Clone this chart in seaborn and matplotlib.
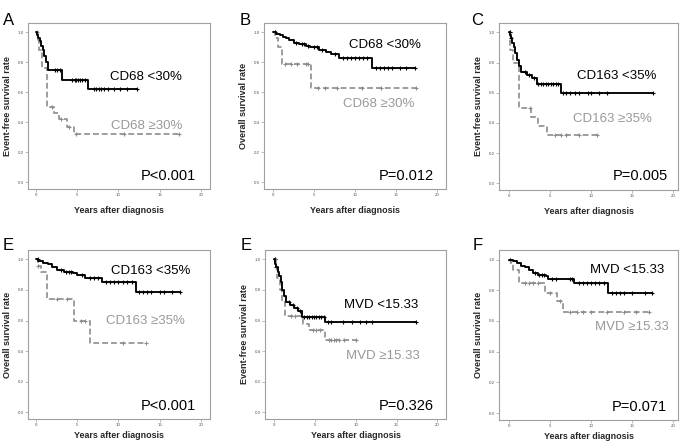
import numpy as np
import matplotlib
matplotlib.use("Agg")
import matplotlib.pyplot as plt
import seaborn as sns

# ---- data (event times, survival after step, censor times) ----
# A: CD68, event-free
a_lo_t = [0, 0.15, 0.3, 0.45, 0.6, 0.8, 1.0, 1.2, 1.4, 3.2, 6.3]
a_lo_s = [1.0, 0.98, 0.96, 0.94, 0.91, 0.88, 0.84, 0.80, 0.75, 0.68, 0.62]
a_lo_end = 12.3
a_lo_cens = [2.3, 2.6, 2.9, 4.4, 4.7, 4.9, 5.1, 5.3, 5.6, 5.9, 7.0, 7.3, 7.6, 7.9,
             8.3, 8.7, 9.5, 10.2, 11.0, 12.3]
a_hi_t = [0, 0.2, 0.4, 0.7, 1.3, 2.2, 2.8, 3.7, 4.6]
a_hi_s = [1.0, 0.95, 0.88, 0.76, 0.50, 0.46, 0.42, 0.37, 0.32]
a_hi_end = 17.4
a_hi_cens = [0.1, 2.0, 3.0, 4.0, 4.8, 10.7, 17.4]

# B: CD68, overall
b_lo_t = [0, 0.4, 0.8, 1.2, 1.6, 2.0, 2.5, 3.2, 4.0, 4.5, 5.6, 6.5, 7.0, 8.0, 12.1]
b_lo_s = [1.0, 0.99, 0.98, 0.97, 0.96, 0.95, 0.93, 0.92, 0.91, 0.90, 0.88, 0.87,
          0.855, 0.83, 0.76]
b_lo_end = 17.3
b_lo_cens = [0.2, 2.8, 3.5, 3.8, 4.2, 5.0, 5.3, 6.0, 7.5, 8.5, 9.0, 9.5, 10.0, 10.5,
             11.0, 11.5, 12.5, 13.0, 13.5, 14.0, 14.5, 15.5, 16.2, 17.3]
b_hi_t = [0, 0.3, 0.6, 1.1, 4.6]
b_hi_s = [1.0, 0.96, 0.90, 0.79, 0.63]
b_hi_end = 17.4
b_hi_cens = [0.2, 1.5, 2.2, 2.9, 4.0, 4.3, 5.5, 6.3, 7.8, 10.8, 13.2, 17.4]

# C: CD163, event-free
c_lo_t = [0, 0.15, 0.3, 0.45, 0.6, 0.8, 1.0, 1.2, 1.5, 2.2, 2.8, 3.4, 6.3]
c_lo_s = [1.0, 0.98, 0.96, 0.93, 0.90, 0.86, 0.82, 0.78, 0.74, 0.72, 0.70, 0.66, 0.60]
c_lo_end = 17.5
c_lo_cens = [0.1, 0.3, 2.0, 2.5, 3.1, 3.6, 3.9, 4.2, 4.5, 4.8, 5.1, 5.4, 5.7, 6.0,
             6.6, 7.0, 7.5, 8.0, 8.5, 9.6, 10.0, 11.0, 12.0, 17.5]
c_hi_t = [0, 0.2, 0.5, 1.3, 2.7, 3.6, 4.6]
c_hi_s = [1.0, 0.88, 0.80, 0.50, 0.44, 0.38, 0.32]
c_hi_end = 10.7
c_hi_cens = [0.1, 2.6, 5.6, 6.3, 7.0, 8.5, 10.7]

# E: CD163, overall
e_lo_t = [0, 0.3, 0.8, 1.5, 2.0, 2.5, 3.4, 4.5, 5.0, 6.0, 8.0, 12.1]
e_lo_s = [1.0, 0.99, 0.98, 0.97, 0.95, 0.93, 0.92, 0.91, 0.90, 0.88, 0.855, 0.785]
e_lo_end = 17.5
e_lo_cens = [0.2, 3.0, 3.6, 4.0, 4.3, 5.6, 6.5, 7.0, 7.5, 8.5, 9.0, 9.5, 10.0, 10.5,
             11.0, 11.6, 12.5, 13.0, 13.5, 14.0, 15.0, 15.5, 16.5, 17.5]
e_hi_t = [0, 0.3, 0.6, 1.3, 4.6, 6.6]
e_hi_s = [1.0, 0.96, 0.92, 0.74, 0.60, 0.45]
e_hi_end = 13.3
e_hi_cens = [0.3, 2.6, 3.8, 5.4, 6.0, 10.5, 13.3]

# E (second): MVD, event-free
m_lo_t = [0, 0.15, 0.3, 0.45, 0.6, 0.8, 1.0, 1.2, 1.5, 2.0, 2.5, 3.0, 3.4, 6.3]
m_lo_s = [1.0, 0.97, 0.95, 0.92, 0.89, 0.85, 0.80, 0.76, 0.72, 0.70, 0.68, 0.66,
          0.62, 0.59]
m_lo_end = 17.4
m_lo_cens = [0.1, 0.3, 1.8, 2.3, 2.8, 3.2, 3.7, 4.0, 4.3, 4.6, 4.9, 5.2, 5.5, 5.8,
             6.1, 6.6, 7.0, 8.5, 9.5, 10.5, 11.3, 12.0, 17.4]
m_hi_t = [0, 0.2, 0.4, 0.7, 1.0, 1.3, 3.5, 4.3, 6.3]
m_hi_s = [1.0, 0.95, 0.88, 0.80, 0.72, 0.63, 0.58, 0.54, 0.47]
m_hi_end = 10.0
m_hi_cens = [0.1, 2.1, 2.6, 4.8, 5.2, 5.6, 6.7, 7.0, 7.3, 7.6, 8.0, 8.6, 10.0]

# F: MVD, overall
f_lo_t = [0, 0.5, 1.0, 1.5, 2.0, 2.5, 3.0, 3.5, 4.5, 4.8, 7.9, 12.1]
f_lo_s = [1.0, 0.99, 0.98, 0.96, 0.95, 0.93, 0.91, 0.90, 0.89, 0.87, 0.85, 0.78]
f_lo_end = 17.4
f_lo_cens = [0.2, 3.2, 3.7, 4.0, 4.3, 5.2, 5.8, 7.4, 7.7, 8.5, 9.0, 9.5, 10.0, 10.5,
             11.0, 11.6, 12.5, 13.0, 13.5, 14.0, 15.0, 16.5, 17.4]
f_hi_t = [0, 0.3, 0.5, 1.2, 4.4, 5.9, 6.6]
f_hi_s = [1.0, 0.97, 0.93, 0.85, 0.78, 0.73, 0.66]
f_hi_end = 17.0
f_hi_cens = [0.2, 2.0, 2.5, 3.0, 3.5, 5.0, 6.2, 7.5, 8.3, 9.0, 10.0, 12.0, 14.0, 15.5, 17.0]

letters = ["A", "B", "C", "E", "E", "F"]
ylabels = ["Event-free survival rate", "Overall survival rate", "Event-free survival rate",
           "Overall survival rate", "Event-free survival rate", "Overall survival rate"]
lo_labels = ["CD68 <30%", "CD68 <30%", "CD163 <35%", "CD163 <35%", "MVD <15.33", "MVD <15.33"]
hi_labels = ["CD68 \u226530%", "CD68 \u226530%", "CD163 \u226535%", "CD163 \u226535%",
             "MVD \u226515.33", "MVD \u226515.33"]
p_labels = ["P<0.001", "P=0.012", "P=0.005", "P<0.001", "P=0.326", "P=0.071"]
xticks = [0, 5, 10, 15, 20]
yticks = [0.0, 0.2, 0.4, 0.6, 0.8, 1.0]

panels = [
    (a_lo_t, a_lo_s, a_lo_end, a_lo_cens, a_hi_t, a_hi_s, a_hi_end, a_hi_cens),
    (b_lo_t, b_lo_s, b_lo_end, b_lo_cens, b_hi_t, b_hi_s, b_hi_end, b_hi_cens),
    (c_lo_t, c_lo_s, c_lo_end, c_lo_cens, c_hi_t, c_hi_s, c_hi_end, c_hi_cens),
    (e_lo_t, e_lo_s, e_lo_end, e_lo_cens, e_hi_t, e_hi_s, e_hi_end, e_hi_cens),
    (m_lo_t, m_lo_s, m_lo_end, m_lo_cens, m_hi_t, m_hi_s, m_hi_end, m_hi_cens),
    (f_lo_t, f_lo_s, f_lo_end, f_lo_cens, f_hi_t, f_hi_s, f_hi_end, f_hi_cens),
]

# ---- layout (pixel boxes of each axes, figure 686x447) ----
W, H = 686, 447
boxes = [(28, 23, 210, 189), (264, 23, 446, 189), (499, 23, 678, 190),
         (28, 250, 210, 419), (265, 250, 446, 419), (499, 250, 678, 420)]
xlims = [(-0.97, 21.1), (-1.1, 21.06), (-1.18, 20.57),
         (-0.97, 21.1), (-1.1, 21.06), (-1.18, 20.57)]
xlabelpads = [6.5, 6.5, 6.5, 2.8, 2.8, 2.8]
# label positions (x right edge, y centre) in data units
lo_pos = [(17.7, 0.70), (18.0, 0.914), (17.9, 0.71), (18.7, 0.927), (17.7, 0.70), (18.9, 0.934)]
hi_pos = [(17.7, 0.375), (17.2, 0.52), (17.4, 0.428), (18.0, 0.596), (17.8, 0.37), (19.5, 0.56)]
p_pos = [(19.4, 0.045), (19.55, 0.045), (19.3, 0.045), (19.4, 0.04), (19.55, 0.04), (19.2, 0.04)]
letter_pos = [(3, 25), (240, 25), (471, 25), (3, 250), (241, 250), (473, 250)]

sns.set_style("white")
plt.rcParams['font.family'] = ['Liberation Sans', 'DejaVu Sans']

BLACK = "#000000"
GREY = "#8c8c8c"
FRAME = "#a0a0a0"

fig = plt.figure(figsize=(W / 100, H / 100), dpi=100)


def step_data(t, s, end):
    #extend steps to the last follow-up time
    return list(t) + [end], list(s) + [s[-1]]


def censor_levels(t, s, cens):
    idx = np.searchsorted(np.array(t), np.array(cens), side='right') - 1
    return [s[i] for i in idx]


for i, p in enumerate(panels):
    x0, y0, x1, y1 = boxes[i]
    ax = fig.add_axes([x0 / W, 1 - y1 / H, (x1 - x0) / W, (y1 - y0) / H])
    lo_t, lo_s, lo_end, lo_c, hi_t, hi_s, hi_end, hi_c = p

    #grey (high) group first, dashed
    hx, hy = step_data(hi_t, hi_s, hi_end)
    sns.lineplot(x=hx, y=hy, ax=ax, color=GREY, linewidth=1.2, drawstyle='steps-post',
                 linestyle=(0, (3.5, 1.8)), estimator=None, sort=False)
    sns.scatterplot(x=hi_c, y=censor_levels(hi_t, hi_s, hi_c), ax=ax, marker='+',
                    color=GREY, s=9, linewidth=0.8)

    #black (low) group, solid
    lx, ly = step_data(lo_t, lo_s, lo_end)
    sns.lineplot(x=lx, y=ly, ax=ax, color=BLACK, linewidth=1.35, drawstyle='steps-post',
                 estimator=None, sort=False)
    sns.scatterplot(x=lo_c, y=censor_levels(lo_t, lo_s, lo_c), ax=ax, marker='+',
                    color=BLACK, s=9, linewidth=0.8)

    ax.set_xlim(*xlims[i])
    ax.set_ylim(-0.045, 1.062)
    ax.set_xticks(xticks)
    ax.set_xticklabels([str(v) for v in xticks])
    ax.set_yticks(yticks)
    ax.set_yticklabels([f"{v:.1f}" for v in yticks])
    ax.tick_params(axis='both', which='major', labelsize=3.2, length=2, width=0.5,
                   color=FRAME, labelcolor="#555555", pad=1, direction='out',
                   bottom=True, left=True)
    for sp in ax.spines.values():
        sp.set_color(FRAME)
        sp.set_linewidth(0.8)

    ax.set_xlabel("Years after diagnosis", fontsize=6.4, fontweight='bold',
                  labelpad=xlabelpads[i])
    ax.set_ylabel(ylabels[i], fontsize=6.5, fontweight='bold', labelpad=4)

    ax.text(lo_pos[i][0], lo_pos[i][1], lo_labels[i], ha='right', va='center',
            fontsize=9.5, color=BLACK)
    ax.text(hi_pos[i][0], hi_pos[i][1], hi_labels[i], ha='right', va='center',
            fontsize=9.5, color="#999999")
    ax.text(p_pos[i][0], p_pos[i][1], p_labels[i], ha='right', va='center',
            fontsize=10.5, color=BLACK)

    fig.text(letter_pos[i][0] / W, 1 - letter_pos[i][1] / H, letters[i],
             ha='left', va='baseline', fontsize=12, color=BLACK)

fig.savefig("out.png", dpi=100)
